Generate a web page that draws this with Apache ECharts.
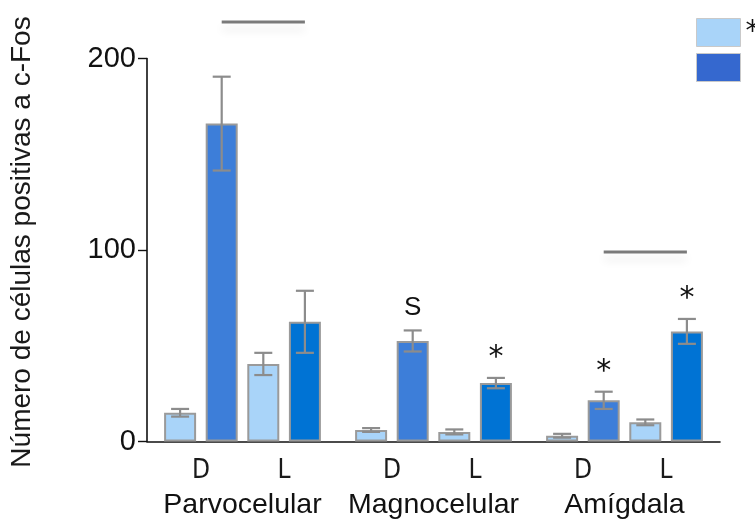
<!DOCTYPE html>
<html>
<head>
<meta charset="utf-8">
<script src="https://cdn.jsdelivr.net/npm/echarts@6/dist/echarts.min.js"></script>
<style>
  html, body { margin: 0; padding: 0; background: #ffffff; }
  #chart { width: 755px; height: 520px; }
</style>
</head>
<body>
<div id="chart"></div>
<script>
// Regions on the category axis
const regions = ['Parvocelular', 'Magnocelular', 'Amígdala'];
const subLabels = ['D', 'L'];

// Mean counts and SEM for each condition (D = dark phase, L = light phase)
const dLight    = [15, 6, 3];
const dLightErr = [2, 1, 1];
const dDark     = [166, 52.5, 21.5];
const dDarkErr  = [24.5, 5.5, 4.5];
const lLight    = [40.5, 5, 10];
const lLightErr = [5.8, 1.3, 1.5];
const lDark     = [62.5, 30.5, 57.5];
const lDarkErr  = [16.2, 2.7, 6.5];

// Significance marks above the dark bars
const dDarkMarks = ['', 'S', '*'];
const lDarkMarks = ['', '*', '*'];

// Comparison brackets (region index, level on the value axis)
const bracketRegions = [0, 2];
const bracketLevels  = [219, 99];

// Y axis ticks
const yTicks = [0, 100, 200];

const LIGHT = '#a9d4f9';
const DARK_D = '#3d7ed9';
const DARK_L = '#0073d4';
const EDGE = '#9a9a9a';
const WHISKER = '#8c8c8c';

const BAR_W = 32;
const BAR_GAP = 0.3;
const STEP = BAR_W * (1 + BAR_GAP);
const slotOffset = k => (k - 1.5) * STEP;

const barSets = [
  { name: '*', values: dLight, errs: dLightErr, color: LIGHT, marks: null },
  { name: ' ', values: dDark,  errs: dDarkErr,  color: DARK_D, marks: dDarkMarks },
  { name: '*', values: lLight, errs: lLightErr, color: LIGHT, marks: null },
  { name: ' ', values: lDark,  errs: lDarkErr,  color: DARK_L, marks: lDarkMarks }
];

// Rows for the whisker layer: [region, slot, mean, err]
const errRows = [];
const errMarks = [];
barSets.forEach((s, k) => {
  s.values.forEach((v, g) => {
    errRows.push([g, k, v, s.errs[g]]);
    errMarks.push(s.marks ? s.marks[g] : '');
  });
});

const bracketRows = bracketRegions.map((g, i) => [g, bracketLevels[i]]);

const chart = echarts.init(document.getElementById('chart'), null, { renderer: 'canvas' });

const series = barSets.map(s => ({
  type: 'bar',
  name: s.name,
  data: s.values,
  barWidth: BAR_W,
  barGap: (BAR_GAP * 100) + '%',
  itemStyle: { color: s.color, borderColor: EDGE, borderWidth: 2 },
  emphasis: { disabled: true },
  z: 2
}));

series.push({
  type: 'custom',
  name: 'sem',
  data: errRows,
  encode: { x: 0, y: 2 },
  z: 5,
  clip: false,
  silent: true,
  renderItem: (params, api) => {
    const g = api.value(0), k = api.value(1), m = api.value(2), e = api.value(3);
    const x = api.coord([g, m])[0] + slotOffset(k);
    const yTop = api.coord([g, m + e])[1];
    const yBot = api.coord([g, m - e])[1];
    const cap = 9;
    const st = { stroke: WHISKER, lineWidth: 2.2 };
    const children = [
      { type: 'line', shape: { x1: x, y1: yTop, x2: x, y2: yBot }, style: st },
      { type: 'line', shape: { x1: x - cap, y1: yTop, x2: x + cap, y2: yTop }, style: st },
      { type: 'line', shape: { x1: x - cap, y1: yBot, x2: x + cap, y2: yBot }, style: st }
    ];
    const mark = errMarks[params.dataIndex];
    if (mark) {
      const star = mark === '*';
      children.push({
        type: 'text',
        style: {
          text: mark, x: x, y: yTop - (star ? 35 : 36),
          textAlign: 'center', textVerticalAlign: 'top',
          font: star ? '30px "DejaVu Sans", sans-serif' : '26px "Liberation Sans", Arial, sans-serif',
          fill: '#111111'
        }
      });
    }
    return { type: 'group', children };
  }
});

series.push({
  type: 'custom',
  name: 'brackets',
  data: bracketRows,
  encode: { x: 0, y: 1 },
  z: 5,
  clip: false,
  silent: true,
  renderItem: (params, api) => {
    const g = api.value(0), lvl = api.value(1);
    const p = api.coord([g, lvl]);
    return {
      type: 'line',
      shape: { x1: p[0] + slotOffset(1), y1: p[1], x2: p[0] + slotOffset(3), y2: p[1] },
      style: {
        stroke: '#7a7a7a', lineWidth: 3,
        shadowBlur: 8, shadowOffsetY: 7, shadowColor: 'rgba(0,0,0,0.10)'
      }
    };
  }
});

chart.setOption({
  backgroundColor: '#ffffff',
  animation: false,
  textStyle: { fontFamily: '"Liberation Sans", Arial, sans-serif' },
  legend: {
    orient: 'vertical',
    left: 691,
    top: 13,
    itemWidth: 44,
    itemHeight: 28,
    itemGap: 6,
    icon: 'rect',
    selectedMode: false,
    data: [
      { name: '*', itemStyle: { color: LIGHT, borderColor: '#c9c9c9', borderWidth: 1 } },
      { name: ' ', itemStyle: { color: '#3568cf', borderColor: '#c9c9c9', borderWidth: 1 } }
    ],
    textStyle: { fontSize: 28, color: '#111111', fontFamily: '"DejaVu Sans", sans-serif' }
  },
  grid: { left: 143, right: 35, top: 58.5, bottom: 78.5, containLabel: false },
  xAxis: {
    type: 'category',
    data: regions,
    boundaryGap: true,
    axisLine: { lineStyle: { color: '#111111', width: 1.6 } },
    axisTick: { show: false },
    axisLabel: {
      margin: 15,
      interval: 0,
      formatter: v => `{d|${subLabels[0]}}{sp|}{l|${subLabels[1]}}\n{g|${v}}`,
      rich: {
        d:  { width: 20, align: 'center', fontSize: 26, lineHeight: 30, color: '#1a1a1a',
              fontFamily: '"Liberation Sans Narrow", "DejaVu Sans Condensed", sans-serif' },
        sp: { width: 63 },
        l:  { width: 20, align: 'center', fontSize: 26, lineHeight: 30, color: '#1a1a1a',
              fontFamily: '"Liberation Sans Narrow", "DejaVu Sans Condensed", sans-serif' },
        g:  { fontSize: 28.5, lineHeight: 38, color: '#111111',
              fontFamily: '"Liberation Sans", Arial, sans-serif' }
      }
    }
  },
  yAxis: {
    type: 'value',
    min: yTicks[0],
    max: yTicks[yTicks.length - 1],
    interval: yTicks[1] - yTicks[0],
    name: 'Número de células positivas a c-Fos',
    nameLocation: 'middle',
    nameGap: 111,
    nameTextStyle: { fontSize: 28, color: '#1a1a1a', padding: [0, 0, 0, 16] },
    axisLine: { show: true, lineStyle: { color: '#111111', width: 1.6 } },
    axisTick: { show: true, length: 9, lineStyle: { color: '#111111', width: 1.4 } },
    axisLabel: { margin: 11, fontSize: 29, color: '#111111' },
    splitLine: { show: false }
  },
  series
});
</script>
</body>
</html>
